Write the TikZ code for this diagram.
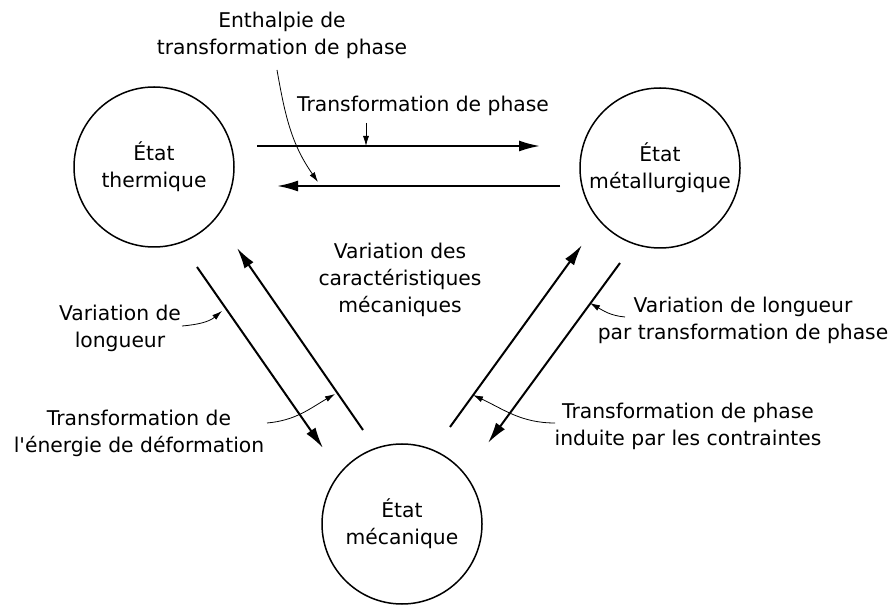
\documentclass[tikz,border=0pt]{standalone}
\usepackage{fontspec}
\setmainfont{DejaVu Sans}
\usetikzlibrary{arrows.meta}
\begin{document}
\begin{tikzpicture}[x=1pt,y=1pt,
  every node/.style={font=\fontsize{20.3}{27}\selectfont,align=center},
  etat/.style={draw,circle,line width=1.5pt,minimum size=160pt,inner sep=0pt},
  flux/.style={line width=2pt,-{Latex[length=21pt,width=11pt]}},
  renvoi/.style={line width=0.8pt,-{Latex[length=10pt,width=6pt]}}]
\useasboundingbox (0,0) rectangle (893,605);
\node[etat](therm) at (154,438){État\\thermique};
\node[etat](metal) at (660,437){État\\métallurgique};
\node[etat](meca) at (402,81){État\\mécanique};
% fleches entre les etats
\coordinate (th1) at (257,459); \coordinate (me1) at (540,459);
\coordinate (me2) at (560,419); \coordinate (th2) at (277,419);
\coordinate (th3) at (197,338); \coordinate (mc3) at (323,157);
\coordinate (mc4) at (363,175); \coordinate (th4) at (237,357);
\coordinate (mc5) at (450,178); \coordinate (me5) at (582,360);
\coordinate (me6) at (620,342); \coordinate (mc6) at (488,162);
\draw[flux](th1)--(me1);
\draw[flux](me2)--(th2);
\draw[flux](th3)--(mc3);
\draw[flux](mc4)--(th4);
\draw[flux](mc5)--(me5);
\draw[flux](me6)--(mc6);
% textes
\node(tp) at (423,499){Transformation de phase};
\node(enth) at (282,570){Enthalpie de\\transformation de phase};
\node(varc) at (400,325){Variation des\\caractéristiques\\mécaniques};
\node(vlg) at (120,276.5){Variation de\\longueur};
\node(ted) at (139,171.5){Transformation de\\l\textquotesingle énergie de déformation};
\node(vlp) at (743,284.5){Variation de longueur\\par transformation de phase};
\node(tpc) at (688,178.5){Transformation de phase\\induite par les contraintes};
% renvois
\coordinate (a1) at (366,482); \coordinate (b1) at (366,459);
\coordinate (a2) at (277,535); \coordinate (b2) at (318,423);
\coordinate (a3) at (182,279); \coordinate (b3) at (222,294);
\coordinate (a4) at (267,182); \coordinate (b4) at (335,211);
\coordinate (a5) at (625,288); \coordinate (b5) at (590,302);
\coordinate (a6) at (555,182); \coordinate (b6) at (473,210);
\draw[renvoi](a1)--(b1);
\draw[renvoi](a2) to[out=-80,in=125] (b2);
\draw[renvoi](a3) to[out=5,in=-140] (b3);
\draw[renvoi](a4) to[out=5,in=-150] (b4);
\draw[renvoi](a5) to[out=175,in=-30] (b5);
\draw[renvoi](a6) to[out=180,in=-25] (b6);
\end{tikzpicture}
\end{document}
